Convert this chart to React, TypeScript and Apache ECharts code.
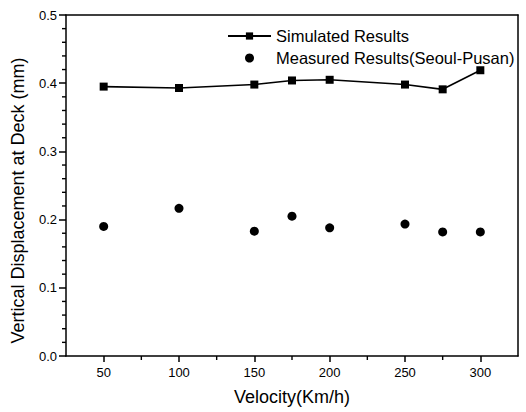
import React, { useEffect, useRef } from "react";
import * as echarts from "echarts";

const velocities = [50, 100, 150, 175, 200, 250, 275, 300];
const simulated = [0.395, 0.393, 0.398, 0.404, 0.405, 0.398, 0.391, 0.419];
const measured = [0.19, 0.2165, 0.183, 0.205, 0.188, 0.1935, 0.182, 0.182];
const xMajorTicks = [50, 100, 150, 200, 250, 300];
const xMinorTicks = [75, 125, 175, 225, 275];
const yMinorTicks = [
  0.02, 0.04, 0.06, 0.08, 0.12, 0.14, 0.16, 0.18, 0.22, 0.24, 0.26, 0.28,
  0.32, 0.34, 0.36, 0.38, 0.42, 0.44, 0.46, 0.48,
];

const X_MIN = 25;
const X_MAX = 325;
const Y_MIN = 0;
const Y_MAX = 0.5;

const FONT = "Liberation Sans, Arial, sans-serif";
const BLACK = "#000";

export default function App() {
  const ref = useRef<HTMLDivElement>(null);
  useEffect(() => {
    if (!ref.current) return;
    const chart = echarts.init(ref.current, undefined, { renderer: "svg" });
    const frameAxis = {
      type: "value",
      splitLine: { show: false },
      axisLine: { show: true, onZero: false, lineStyle: { color: BLACK, width: 1.5 } },
      axisTick: { show: false },
      axisLabel: { show: false },
    };
    const tickSeries = (data: number[][], vertical: boolean) => ({
      type: "custom",
      silent: true,
      clip: false,
      xAxisIndex: 0,
      yAxisIndex: 0,
      encode: { x: 0, y: 1 },
      data,
      renderItem: (_params: any, api: any) => {
        const p = api.coord([api.value(0), api.value(1)]);
        const shape = vertical
          ? { x1: p[0], y1: p[1], x2: p[0], y2: p[1] + 4 }
          : { x1: p[0] - 4, y1: p[1], x2: p[0], y2: p[1] };
        return {
          type: "line",
          shape,
          style: { stroke: BLACK, lineWidth: 1.4 },
        };
      },
    });
    chart.setOption({
      animation: false,
      backgroundColor: "#ffffff",
      textStyle: { fontFamily: FONT },
      grid: {
        left: 66,
        right: 8,
        top: 15,
        bottom: 56,
      },
      legend: {
        orient: "vertical",
        left: 222,
        top: 22,
        itemWidth: 43,
        itemHeight: 9,
        itemGap: 4,
        textStyle: { fontSize: 16.5, lineHeight: 18, color: BLACK, fontFamily: FONT },
        data: ["Simulated Results", "Measured Results(Seoul-Pusan)"],
      },
      xAxis: [
        {
          type: "value",
          min: X_MIN,
          max: X_MAX,
          position: "bottom",
          name: "Velocity(Km/h)",
          nameLocation: "middle",
          nameGap: 32,
          nameTextStyle: { fontSize: 18, color: BLACK, fontFamily: FONT },
          splitLine: { show: false },
          axisLine: { show: true, onZero: false, lineStyle: { color: BLACK, width: 1.5 } },
          axisTick: {
            show: true,
            customValues: xMajorTicks,
            length: 6,
            lineStyle: { color: BLACK, width: 1.5 },
          },
          axisLabel: {
            customValues: xMajorTicks,
            fontSize: 13,
            color: BLACK,
            margin: 10,
            fontFamily: FONT,
          },
        },
        { ...frameAxis, min: X_MIN, max: X_MAX, position: "top" },
      ],
      yAxis: [
        {
          type: "value",
          min: Y_MIN,
          max: Y_MAX,
          interval: 0.1,
          position: "left",
          name: "Vertical Displacement at Deck (mm)",
          nameLocation: "middle",
          nameGap: 39,
          nameTextStyle: {
            fontSize: 18,
            color: BLACK,
            fontFamily: FONT,
            padding: [0, 30, 0, 0],
          },
          splitLine: { show: false },
          axisLine: { show: true, onZero: false, lineStyle: { color: BLACK, width: 1.5 } },
          axisTick: { show: true, length: 7, lineStyle: { color: BLACK, width: 1.5 } },
          axisLabel: {
            fontSize: 13,
            color: BLACK,
            margin: 9,
            fontFamily: FONT,
            formatter: (v: number) => v.toFixed(1),
          },
        },
        { ...frameAxis, min: Y_MIN, max: Y_MAX, position: "right" },
      ],
      series: [
        tickSeries(xMinorTicks.map((v) => [v, Y_MIN]), true),
        tickSeries(yMinorTicks.map((v) => [X_MIN, v]), false),
        {
          name: "Simulated Results",
          type: "line",
          data: velocities.map((v, i) => [v, simulated[i]]),
          symbol: "rect",
          symbolSize: 8,
          lineStyle: { color: BLACK, width: 1.6 },
          itemStyle: { color: BLACK, opacity: 1 },
        },
        {
          name: "Measured Results(Seoul-Pusan)",
          type: "scatter",
          data: velocities.map((v, i) => [v, measured[i]]),
          symbol: "circle",
          symbolSize: 9,
          itemStyle: { color: BLACK, opacity: 1 },
        },
      ],
    });
    return () => chart.dispose();
  }, []);
  return (
    <div
      ref={ref}
      style={{ position: "fixed", left: 0, top: 0, width: 526, height: 412 }}
    />
  );
}
